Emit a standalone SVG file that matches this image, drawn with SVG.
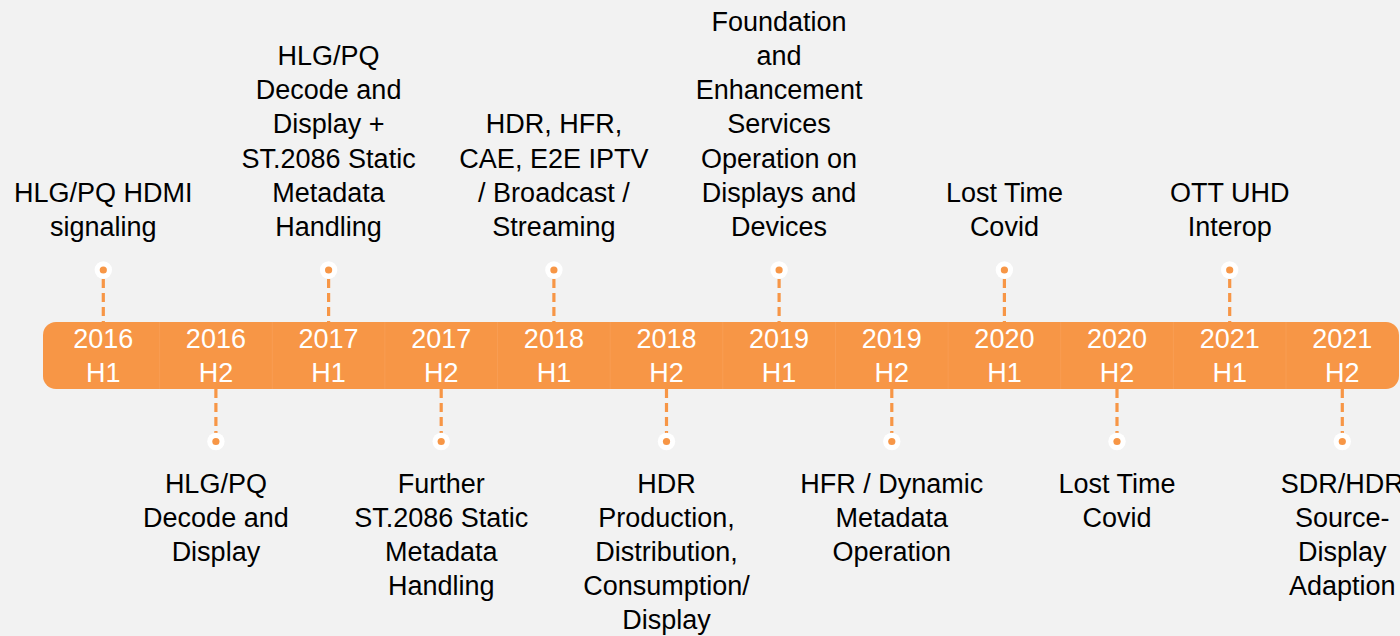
<svg xmlns="http://www.w3.org/2000/svg" width="1400" height="636" viewBox="0 0 1400 636">
<style>
.t{font-family:"Liberation Sans",Arial,sans-serif;font-size:27px;fill:#000;text-anchor:middle}
.b{font-family:"Liberation Sans",Arial,sans-serif;font-size:27px;fill:#fff;text-anchor:middle}
.dash{stroke:#f79646;stroke-width:3.2;stroke-dasharray:9 5;fill:none}
.div{stroke:#f89d53;stroke-width:1}
.ring{fill:#fff}
.pip{fill:#f79646}
</style>
<defs>
<g id="dot"><circle class="ring" r="8.7"/><circle class="pip" r="3.6"/></g>
</defs>
<rect width="1400" height="636" fill="#f2f2f2"/>
<g id="bar">
<rect x="43" y="322" width="1356" height="67" rx="13" fill="#f79646"/>
<g class="div">
<line x1="159.6" y1="322" x2="159.6" y2="389"/><line x1="272.3" y1="322" x2="272.3" y2="389"/><line x1="384.9" y1="322" x2="384.9" y2="389"/><line x1="497.5" y1="322" x2="497.5" y2="389"/><line x1="610.2" y1="322" x2="610.2" y2="389"/><line x1="722.8" y1="322" x2="722.8" y2="389"/><line x1="835.5" y1="322" x2="835.5" y2="389"/><line x1="948.1" y1="322" x2="948.1" y2="389"/><line x1="1060.7" y1="322" x2="1060.7" y2="389"/><line x1="1173.4" y1="322" x2="1173.4" y2="389"/><line x1="1286" y1="322" x2="1286" y2="389"/>
</g>
<g class="b">
<text x="103.3" y="348">2016</text><text x="103.3" y="382">H1</text>
<text x="215.9" y="348">2016</text><text x="215.9" y="382">H2</text>
<text x="328.6" y="348">2017</text><text x="328.6" y="382">H1</text>
<text x="441.2" y="348">2017</text><text x="441.2" y="382">H2</text>
<text x="553.9" y="348">2018</text><text x="553.9" y="382">H1</text>
<text x="666.5" y="348">2018</text><text x="666.5" y="382">H2</text>
<text x="779.1" y="348">2019</text><text x="779.1" y="382">H1</text>
<text x="891.8" y="348">2019</text><text x="891.8" y="382">H2</text>
<text x="1004.4" y="348">2020</text><text x="1004.4" y="382">H1</text>
<text x="1117" y="348">2020</text><text x="1117" y="382">H2</text>
<text x="1229.7" y="348">2021</text><text x="1229.7" y="382">H1</text>
<text x="1342.3" y="348">2021</text><text x="1342.3" y="382">H2</text>
</g>
</g>
<g id="connectors">
<line class="dash" x1="103.3" y1="279" x2="103.3" y2="322"/>
<line class="dash" x1="328.6" y1="279" x2="328.6" y2="322"/>
<line class="dash" x1="553.9" y1="279" x2="553.9" y2="322"/>
<line class="dash" x1="779.1" y1="279" x2="779.1" y2="322"/>
<line class="dash" x1="1004.4" y1="279" x2="1004.4" y2="322"/>
<line class="dash" x1="1229.7" y1="279" x2="1229.7" y2="322"/>
<line class="dash" x1="215.9" y1="389" x2="215.9" y2="433"/>
<line class="dash" x1="441.2" y1="389" x2="441.2" y2="433"/>
<line class="dash" x1="666.5" y1="389" x2="666.5" y2="433"/>
<line class="dash" x1="891.8" y1="389" x2="891.8" y2="433"/>
<line class="dash" x1="1117" y1="389" x2="1117" y2="433"/>
<line class="dash" x1="1342.3" y1="389" x2="1342.3" y2="433"/>
</g>
<g id="n2016h1">
<use href="#dot" x="103.3" y="270"/>
<text class="t" x="103.3" y="202">HLG/PQ HDMI</text><text class="t" x="103.3" y="236">signaling</text>
</g>
<g id="n2016h2">
<use href="#dot" x="215.9" y="441.5"/>
<text class="t" x="215.9" y="493">HLG/PQ</text><text class="t" x="215.9" y="527">Decode and</text><text class="t" x="215.9" y="561">Display</text>
</g>
<g id="n2017h1">
<use href="#dot" x="328.6" y="270"/>
<text class="t" x="328.6" y="65">HLG/PQ</text><text class="t" x="328.6" y="99.2">Decode and</text><text class="t" x="328.6" y="133.4">Display +</text><text class="t" x="328.6" y="167.6">ST.2086 Static</text><text class="t" x="328.6" y="201.8">Metadata</text><text class="t" x="328.6" y="236">Handling</text>
</g>
<g id="n2017h2">
<use href="#dot" x="441.2" y="441.5"/>
<text class="t" x="441.2" y="493">Further</text><text class="t" x="441.2" y="527">ST.2086 Static</text><text class="t" x="441.2" y="561">Metadata</text><text class="t" x="441.2" y="595">Handling</text>
</g>
<g id="n2018h1">
<use href="#dot" x="553.9" y="270"/>
<text class="t" x="553.9" y="133.4">HDR, HFR,</text><text class="t" x="553.9" y="167.6">CAE, E2E IPTV</text><text class="t" x="553.9" y="201.8">/ Broadcast /</text><text class="t" x="553.9" y="236">Streaming</text>
</g>
<g id="n2018h2">
<use href="#dot" x="666.5" y="441.5"/>
<text class="t" x="666.5" y="493">HDR</text><text class="t" x="666.5" y="527">Production,</text><text class="t" x="666.5" y="561">Distribution,</text><text class="t" x="666.5" y="595">Consumption/</text><text class="t" x="666.5" y="629">Display</text>
</g>
<g id="n2019h1">
<use href="#dot" x="779.1" y="270"/>
<text class="t" x="779.1" y="30.8">Foundation</text><text class="t" x="779.1" y="65">and</text><text class="t" x="779.1" y="99.2">Enhancement</text><text class="t" x="779.1" y="133.4">Services</text><text class="t" x="779.1" y="167.6">Operation on</text><text class="t" x="779.1" y="201.8">Displays and</text><text class="t" x="779.1" y="236">Devices</text>
</g>
<g id="n2019h2">
<use href="#dot" x="891.8" y="441.5"/>
<text class="t" x="891.8" y="493">HFR / Dynamic</text><text class="t" x="891.8" y="527">Metadata</text><text class="t" x="891.8" y="561">Operation</text>
</g>
<g id="n2020h1">
<use href="#dot" x="1004.4" y="270"/>
<text class="t" x="1004.4" y="202">Lost Time</text><text class="t" x="1004.4" y="236">Covid</text>
</g>
<g id="n2020h2">
<use href="#dot" x="1117" y="441.5"/>
<text class="t" x="1117" y="493">Lost Time</text><text class="t" x="1117" y="527">Covid</text>
</g>
<g id="n2021h1">
<use href="#dot" x="1229.7" y="270"/>
<text class="t" x="1229.7" y="202">OTT UHD</text><text class="t" x="1229.7" y="236">Interop</text>
</g>
<g id="n2021h2">
<use href="#dot" x="1342.3" y="441.5"/>
<text class="t" x="1342.3" y="493">SDR/HDR</text><text class="t" x="1342.3" y="527">Source-</text><text class="t" x="1342.3" y="561">Display</text><text class="t" x="1342.3" y="595">Adaption</text>
</g>
</svg>
